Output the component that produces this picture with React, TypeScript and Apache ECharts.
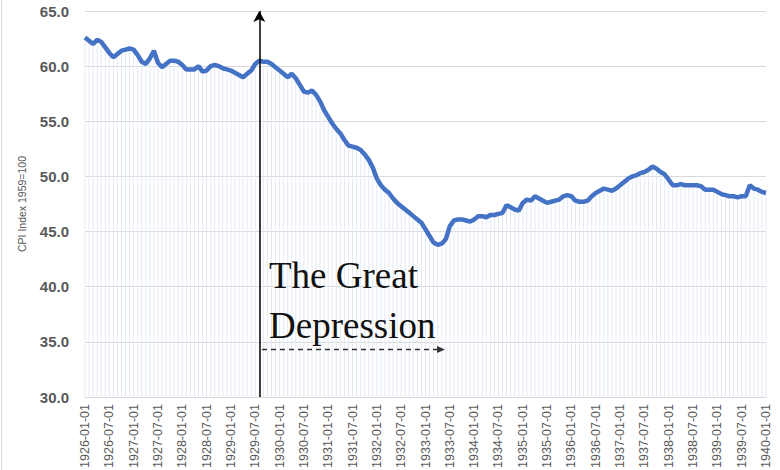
import React, { useEffect, useRef } from "react";
import * as echarts from "echarts";

// Monthly CPI (1959 = 100)
const cpi1926 = [62.6, 62.3, 62.0, 62.4, 62.2, 61.7, 61.2, 60.8, 61.1, 61.4, 61.5, 61.6];
const cpi1927 = [61.5, 61.0, 60.4, 60.2, 60.7, 61.4, 60.3, 59.9, 60.2, 60.5, 60.5, 60.4];
const cpi1928 = [60.1, 59.7, 59.7, 59.7, 60.0, 59.5, 59.6, 60.0, 60.1, 60.0, 59.8, 59.7];
const cpi1929 = [59.6, 59.4, 59.2, 59.0, 59.3, 59.6, 60.2, 60.5, 60.4, 60.4, 60.2, 59.9];
const cpi1930 = [59.6, 59.3, 59.0, 59.3, 58.9, 58.3, 57.7, 57.6, 57.8, 57.4, 56.8, 56.0];
const cpi1931 = [55.4, 54.8, 54.3, 53.9, 53.3, 52.8, 52.7, 52.6, 52.4, 52.0, 51.5, 50.8];
const cpi1932 = [49.8, 49.2, 48.8, 48.5, 48.0, 47.6, 47.3, 47.0, 46.7, 46.4, 46.1, 45.8];
const cpi1933 = [45.2, 44.6, 44.0, 43.8, 43.9, 44.3, 45.5, 46.0, 46.1, 46.1, 46.0, 45.9];
const cpi1934 = [46.1, 46.4, 46.4, 46.3, 46.5, 46.5, 46.6, 46.7, 47.4, 47.2, 47.0, 46.9];
const cpi1935 = [47.6, 47.9, 47.8, 48.2, 48.0, 47.8, 47.6, 47.7, 47.8, 47.9, 48.2, 48.3];
const cpi1936 = [48.2, 47.8, 47.7, 47.7, 47.8, 48.2, 48.5, 48.7, 48.9, 48.8, 48.7, 48.9];
const cpi1937 = [49.2, 49.5, 49.8, 50.0, 50.1, 50.3, 50.4, 50.6, 50.9, 50.7, 50.4, 50.2];
const cpi1938 = [49.7, 49.2, 49.2, 49.3, 49.2, 49.2, 49.2, 49.2, 49.1, 48.8, 48.8, 48.8];
const cpi1939 = [48.6, 48.4, 48.3, 48.2, 48.2, 48.1, 48.2, 48.2, 49.2, 48.9, 48.8, 48.6];
const cpi1940 = [48.5];

const cpi = [
  ...cpi1926, ...cpi1927, ...cpi1928, ...cpi1929, ...cpi1930, ...cpi1931, ...cpi1932,
  ...cpi1933, ...cpi1934, ...cpi1935, ...cpi1936, ...cpi1937, ...cpi1938, ...cpi1939, ...cpi1940,
];

const startYear = 1926;
const dates: string[] = cpi.map((_, i) => {
  const y = startYear + Math.floor(i / 12);
  const m = (i % 12) + 1;
  return `${y}-${m < 10 ? "0" + m : m}-01`;
});

const arrowDate = "1929-08-01";
const yMin = 30;
const yMax = 65;
const yStep = 5;
const annotationLines = ["The Great", "Depression"];
const yAxisTitle = "CPI Index 1959=100";

export default function App() {
  const ref = useRef<HTMLDivElement>(null);

  useEffect(() => {
    document.body.style.margin = "0";
    if (!ref.current) return;
    const chart = echarts.init(ref.current, null, { renderer: "svg" });
    chart.setOption({
      animation: false,
      backgroundColor: "#ffffff",
      grid: {
        left: 85,
        right: 14,
        top: 11,
        bottom: 73,
        containLabel: false,
        outerBoundsMode: "none",
      },
      xAxis: {
        type: "category",
        data: dates,
        boundaryGap: false,
        axisLine: { lineStyle: { color: "#d9d9d9", width: 1 } },
        axisTick: { show: false },
        axisLabel: {
          rotate: 90,
          interval: 5,
          fontSize: 12.5,
          color: "#595959",
          fontFamily: "Liberation Sans",
          margin: 7,
        },
        splitLine: { show: false },
      },
      yAxis: {
        type: "value",
        min: yMin,
        max: yMax,
        interval: yStep,
        name: yAxisTitle,
        nameLocation: "middle",
        nameGap: 58,
        nameMoveOverlap: false,
        nameTextStyle: { fontSize: 10.5, color: "#595959", fontFamily: "Liberation Sans" },
        axisLine: { show: false },
        axisTick: { show: false },
        axisLabel: {
          formatter: (v: number) => v.toFixed(1),
          fontSize: 15,
          fontWeight: "bold",
          color: "#595959",
          fontFamily: "Liberation Sans",
          margin: 16,
        },
        splitLine: { lineStyle: { color: "#d9d9d9", width: 1 } },
      },
      series: [
        {
          type: "custom",
          silent: true,
          z: 1,
          data: cpi.map((v, i) => [i, v]),
          encode: { x: 0, y: 1 },
          renderItem: (params: any, api: any) => {
            const top = api.coord([api.value(0), api.value(1)]);
            const bottom = api.coord([api.value(0), yMin]);
            return {
              type: "line",
              shape: { x1: top[0], y1: top[1], x2: bottom[0], y2: bottom[1] },
              style: { stroke: "#e3e9f6", lineWidth: 1 },
            };
          },
        },
        {
          type: "line",
          data: cpi,
          z: 3,
          showSymbol: false,
          symbol: "none",
          lineStyle: { color: "#4472C4", width: 4.5 },
          markLine: {
            silent: true,
            symbol: ["none", "arrow"],
            symbolSize: [9, 11],
            label: { show: false },
            lineStyle: { color: "#000000", width: 1.5, type: "solid" },
            data: [{ xAxis: arrowDate }],
          },
        },
      ],
      graphic: [
        {
          type: "line",
          shape: { x1: 1.5, y1: 0, x2: 1.5, y2: 470 },
          style: { stroke: "#d9d9d9", lineWidth: 1 },
          silent: true,
        },
        {
          type: "text",
          left: 269,
          top: 250,
          z: 10,
          style: {
            text: annotationLines.join("\n"),
            font: "37px 'Liberation Serif'",
            lineHeight: 50,
            fill: "#111111",
          },
        },
        {
          type: "line",
          z: 10,
          shape: { x1: 262, y1: 349.5, x2: 441, y2: 349.5 },
          style: { stroke: "#333333", lineWidth: 1.3, lineDash: [5, 4] },
        },
        {
          type: "polygon",
          z: 10,
          shape: { points: [[437, 346], [445, 349.5], [437, 353]] },
          style: { fill: "#333333" },
        },
      ],
    });
    return () => chart.dispose();
  }, []);

  return <div ref={ref} style={{ width: 780, height: 470 }} />;
}
